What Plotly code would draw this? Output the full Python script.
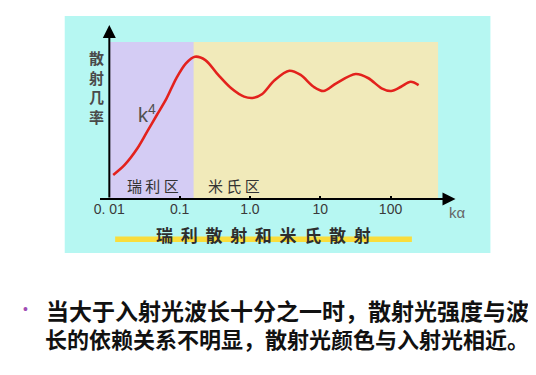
import math
import plotly.graph_objects as go

# ---- data ----
ka_values = [0.01135, 0.0165, 0.0251, 0.0345, 0.0474, 0.0652, 0.0896, 0.123, 0.165,
             0.232, 0.354, 0.542, 0.826, 1.135, 1.48, 2.26, 3.64, 5.26, 8.05, 11.1,
             16.9, 31.9, 48.6, 74.5, 102, 141, 193, 251]
scatter_rate = [15.3, 21.7, 32.3, 42.9, 53.5, 64.1, 76.9, 86.4, 90.6,
                88.5, 79.0, 70.5, 65.2, 64.5, 66.7, 75.8, 81.7, 79.0, 71.5, 68.8,
                73.7, 79.6, 76.9, 70.5, 68.8, 71.5, 74.7, 72.6]
tick_vals = [0.01, 0.1, 1, 10, 100]
tick_text = ["0. 01", "0.1", "1.0", "10", "100"]
x_min_ka = 0.01
x_max_ka = 10 ** 2.676
boundary_ka = 0.158  # Rayleigh / Mie boundary

# ---- page geometry: figure sits at an 8px body margin, sized to fit the window ----
OFF = 8
W, H = 536 - OFF, 375 - OFF
def px(x):
    return (x - OFF) / W
def py(y):
    return (H - (y - OFF)) / H

CJK = "Noto Sans CJK SC"

fig = go.Figure()
fig.add_trace(go.Scatter(
    x=ka_values, y=scatter_rate, mode="lines",
    line=dict(color="#e3221d", width=2.6, shape="spline", smoothing=0.9),
    hoverinfo="skip", showlegend=False))

lo, hi = math.log10(x_min_ka), math.log10(x_max_ka)
boundary_frac = (math.log10(boundary_ka) - lo) / (hi - lo)

shapes = [
    dict(type="rect", xref="paper", yref="paper", x0=px(50), x1=px(489), y0=py(253), y1=py(16),
         fillcolor="#b6f7f2", line=dict(width=0), layer="below"),
    dict(type="rect", xref="x domain", yref="y domain", x0=0, x1=1, y0=0, y1=1,
         fillcolor="#f1eaba", line=dict(width=0), layer="below"),
    dict(type="rect", xref="x domain", yref="y domain", x0=0, x1=boundary_frac, y0=0, y1=1,
         fillcolor="#d4ccf4", line=dict(width=0), layer="below"),
    dict(type="rect", xref="paper", yref="paper", x0=px(102), x1=px(408), y0=py(242), y1=py(236.5),
         fillcolor="#f9dd3c", line=dict(width=0), layer="below"),
]

def label(x, y, text, font, xanchor="center"):
    return dict(xref="paper", yref="paper", x=px(x), y=py(y), text=text, showarrow=False,
                xanchor=xanchor, yanchor="middle", font=font, align="center")

annotations = [
    dict(xref="paper", yref="paper", x=px(96), y=py(25), ax=0, ay=174, axref="pixel", ayref="pixel",
         showarrow=True, arrowhead=2, arrowsize=1.3, arrowwidth=2, arrowcolor="#000", text=""),
    dict(xref="paper", yref="paper", x=px(453), y=py(199), ax=-357, ay=0, axref="pixel", ayref="pixel",
         showarrow=True, arrowhead=2, arrowsize=1.3, arrowwidth=2, arrowcolor="#000", text=""),
    label(83, 87, "散<br>射<br>几<br>率", dict(family=CJK, size=15, color="#4a4a4a", weight="bold")),
    label(135, 113, "k<sup>4</sup>", dict(family="Liberation Sans", size=20, color="#505050")),
    label(141, 185, "瑞 利 区", dict(family=CJK, size=15, color="#333")),
    label(225, 185, "米 氏 区", dict(family=CJK, size=15, color="#333")),
    label(455, 213, "kα", dict(family="Liberation Sans", size=15, color="#666")),
    label(255, 235, "瑞  利  散  射  和  米  氏  散  射",
          dict(family=CJK, size=17, color="#2e2e2e", weight="bold")),
    label(10, 309, "•", dict(family="Liberation Sans", size=14, color="#a04cb4")),
    label(29, 310, "当大于入射光波长十分之一时，散射光强度与波",
          dict(family=CJK, size=23, color="#111", weight="bold"), xanchor="left"),
    label(28, 338, "长的依赖关系不明显，散射光颜色与入射光相近。",
          dict(family=CJK, size=22, color="#111", weight="bold"), xanchor="left"),
]

fig.update_layout(
    width=W, height=H, margin=dict(l=0, r=0, t=0, b=0),
    paper_bgcolor="white", plot_bgcolor="rgba(0,0,0,0)",
    shapes=shapes, annotations=annotations, showlegend=False,
    xaxis=dict(type="log", range=[lo, hi], domain=[px(96), px(435)],
               tickvals=tick_vals, ticktext=tick_text, ticks="inside", ticklen=3, tickwidth=2,
               tickcolor="#000", showgrid=False, zeroline=False, showline=False,
               tickfont=dict(family="Liberation Sans", size=14, color="#3a3a3a")),
    yaxis=dict(range=[0, 100], domain=[py(199), py(42)], showticklabels=False, ticks="",
               showgrid=False, zeroline=False, showline=False),
)

fig.write_html("out.html")
